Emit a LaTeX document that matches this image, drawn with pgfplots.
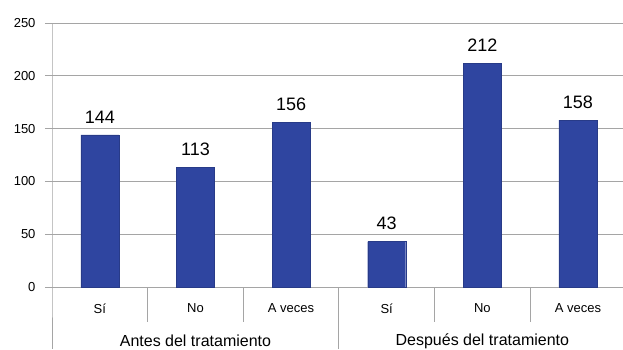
\documentclass[border=0pt]{standalone}
\usepackage{fontspec}
\setmainfont{Liberation Sans}
\usepackage{pgfplots}
\pgfplotsset{compat=1.18}
\definecolor{barblue}{RGB}{47,69,160}
\definecolor{gridgray}{RGB}{165,165,165}
\begin{document}
\begin{tikzpicture}[x=1pt,y=1pt]
\path[use as bounding box] (-52,-62) rectangle (571,287);
\begin{axis}[
  at={(0,0)}, anchor=south west,
  scale only axis, width=569pt, height=264pt,
  xmin=-0.5, xmax=5.45, ymin=0, ymax=250,
  axis line style={draw=none},
  ytick={0,50,...,250},
  ymajorgrids, grid style={gridgray, line width=0.8pt},
  y tick style={gridgray, line width=0.8pt},
  tick align=outside, major tick length=7pt,
  yticklabel style={font=\fontsize{13}{13}\selectfont, xshift=-6pt},
  /pgf/number format/assume math mode=true,
  xtick={0,...,5}, xticklabels={Sí,No,A veces,Sí,No,A veces},
  x tick style={draw=none},
  xticklabel style={font=\fontsize{13}{13}\selectfont, yshift=-6pt},
  clip=false,
  nodes near coords,
  every node near coord/.append style={font=\fontsize{18}{18}\selectfont, yshift=8pt},
]
\addplot[ybar, bar width=38pt, fill=barblue, draw=barblue!85!black] coordinates {
 (0,144) (1,113) (2,156) (3,43) (4,212) (5,158)};
\draw[gridgray, line width=0.8pt] (axis cs:-0.5,250) -- (axis cs:-0.5,0) -- ++(0pt,-62pt);
\draw[gridgray, line width=0.8pt] (axis cs:0.5,0) -- ++(0pt,-35pt);
\draw[gridgray, line width=0.8pt] (axis cs:1.5,0) -- ++(0pt,-35pt);
\draw[gridgray, line width=0.8pt] (axis cs:3.5,0) -- ++(0pt,-35pt);
\draw[gridgray, line width=0.8pt] (axis cs:4.5,0) -- ++(0pt,-35pt);
\draw[gridgray, line width=0.8pt] (axis cs:2.5,0) -- ++(0pt,-62pt);
\node[font=\fontsize{16}{16}\selectfont] at ([yshift=-54pt]axis cs:1,0) {Antes del tratamiento};
\node[font=\fontsize{16}{16}\selectfont] at ([yshift=-54pt]axis cs:4,0) {Después del tratamiento};
\end{axis}
\end{tikzpicture}
\end{document}
